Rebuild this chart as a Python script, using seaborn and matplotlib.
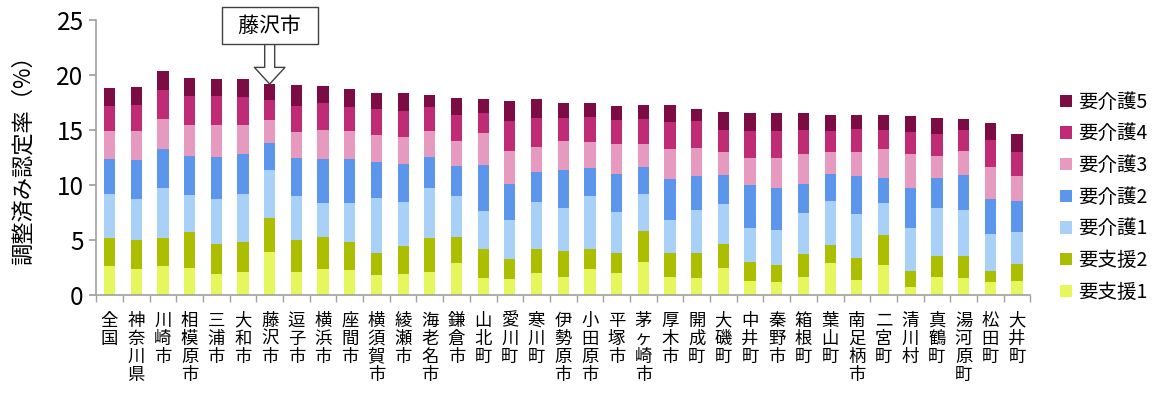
import numpy as np
import pandas as pd
import matplotlib
matplotlib.use('Agg')
import matplotlib.pyplot as plt
from matplotlib.patches import Patch
import seaborn as sns

# Municipalities (x axis)
areas = ['全国', '神奈川県', '川崎市', '相模原市', '三浦市', '大和市', '藤沢市', '逗子市',
         '横浜市', '座間市', '横須賀市', '綾瀬市', '海老名市', '鎌倉市', '山北町', '愛川町',
         '寒川町', '伊勢原市', '小田原市', '平塚市', '茅ヶ崎市', '厚木市', '開成町', '大磯町',
         '中井町', '秦野市', '箱根町', '葉山町', '南足柄市', '二宮町', '清川村', '真鶴町',
         '湯河原町', '松田町', '大井町']

# Adjusted certification rate by care level (%)
shien1 = [2.64, 2.36, 2.64, 2.45, 1.94, 2.12, 3.91, 2.12, 2.33, 2.24, 1.82, 1.94, 2.12, 2.94,
          1.55, 1.42, 2.03, 1.64, 2.33, 2.03, 3.03, 1.64, 1.55, 2.45, 1.24, 1.15, 1.64, 2.88,
          1.36, 2.76, 0.76, 1.64, 1.55, 1.15, 1.24]
shien2 = [2.57, 2.64, 2.57, 3.30, 2.73, 2.73, 3.12, 2.88, 2.97, 2.61, 2.03, 2.52, 3.09, 2.36,
          2.58, 1.88, 2.18, 2.39, 1.88, 1.82, 2.79, 2.21, 2.30, 2.21, 1.79, 1.58, 2.12, 1.64,
          2.03, 2.66, 1.45, 1.91, 2.00, 1.06, 1.61]
kaigo1 = [3.97, 3.70, 4.55, 3.30, 4.09, 4.33, 4.33, 3.97, 3.06, 3.52, 5.00, 4.00, 4.55, 3.70,
          3.52, 3.52, 4.24, 3.91, 4.76, 3.70, 3.36, 2.97, 3.91, 3.61, 3.03, 3.21, 3.69, 4.03,
          3.97, 2.94, 3.85, 4.33, 4.21, 3.37, 2.91]
kaigo2 = [3.18, 3.57, 3.48, 3.61, 3.82, 3.67, 2.48, 3.52, 4.00, 3.94, 3.27, 3.48, 2.79, 2.76,
          4.12, 3.30, 2.70, 3.42, 2.61, 3.48, 2.45, 3.73, 3.09, 2.67, 3.97, 3.82, 2.67, 2.48,
          3.49, 2.31, 3.70, 2.79, 3.18, 3.18, 2.79]
kaigo3 = [2.52, 2.61, 2.73, 2.82, 2.91, 2.64, 2.06, 2.30, 2.64, 2.58, 2.45, 2.42, 2.33, 2.24,
          2.91, 2.97, 2.30, 2.61, 2.30, 2.73, 2.12, 2.73, 2.52, 2.06, 2.45, 2.72, 2.73, 1.94,
          2.12, 2.60, 3.03, 1.97, 2.15, 2.91, 2.24]
kaigo4 = [2.30, 2.39, 2.64, 2.61, 2.61, 2.52, 1.82, 2.42, 2.42, 2.21, 2.33, 2.36, 2.21, 2.33,
          1.88, 2.73, 2.64, 2.12, 2.30, 2.12, 2.21, 2.42, 2.45, 2.00, 2.42, 2.43, 2.12, 1.94,
          2.09, 1.73, 2.03, 2.00, 1.91, 2.42, 2.18]
kaigo5 = [1.61, 1.61, 1.79, 1.61, 1.52, 1.61, 1.45, 1.88, 1.58, 1.61, 1.42, 1.67, 1.09, 1.55,
          1.24, 1.85, 1.70, 1.39, 1.30, 1.30, 1.30, 1.58, 1.06, 1.67, 1.67, 1.61, 1.55, 1.48,
          1.33, 1.39, 1.48, 1.45, 0.97, 1.52, 1.70]

levels = ['要支援1', '要支援2', '要介護1', '要介護2', '要介護3', '要介護4', '要介護5']
colors = ['#E5F75C', '#ABBE00', '#A9D0F7', '#5C95EC', '#E79AC0', '#BF2B74', '#7C0C44']

df = pd.DataFrame({'area': areas, '要支援1': shien1, '要支援2': shien2, '要介護1': kaigo1,
                   '要介護2': kaigo2, '要介護3': kaigo3, '要介護4': kaigo4, '要介護5': kaigo5})
cum = df[levels].cumsum(axis=1)
cum['area'] = df['area']

sns.set_theme(style='white')
plt.rcParams['font.family'] = ['Noto Sans CJK JP', 'DejaVu Sans']

fig = plt.figure(figsize=(11.59, 3.99), dpi=100)
ax = fig.add_axes([0.083, 0.261, 0.806, 0.689])

# stacked bars: draw cumulative totals from the top level down
for lvl, col in reversed(list(zip(levels, colors))):
    sns.barplot(data=cum, x='area', y=lvl, order=areas, color=col, saturation=1,
                width=0.42, linewidth=0, ax=ax)

ax.set_ylim(0, 25)
ax.set_xlim(-0.5, len(areas) - 0.5)
ax.set_yticks([0, 5, 10, 15, 20, 25])
ax.tick_params(axis='y', labelsize=17.5, length=5, color='#a0a0a0', direction='out',
               left=True, pad=4, labelcolor='black')
ax.set_xticks(range(len(areas)))
ax.set_xticklabels(['\n'.join(a) for a in areas], fontsize=12.5, linespacing=1.0,
                   va='top', color='black')
ax.tick_params(axis='x', which='major', length=0, pad=12)
ax.set_xticks(np.arange(-0.5, len(areas)), minor=True)
ax.tick_params(axis='x', which='minor', length=5, color='#a0a0a0', bottom=True)
ax.set_xlabel('')
ax.set_ylabel('調整済み認定率（%）', fontsize=16, color='black')
ax.yaxis.set_label_coords(-0.066, 0.51)
for side in ['top', 'right']:
    ax.spines[side].set_visible(False)
for side in ['left', 'bottom']:
    ax.spines[side].set_color('#a0a0a0')
    ax.spines[side].set_linewidth(1.2)

# callout for Fujisawa
i = areas.index('藤沢市')
ax.annotate('  藤沢市  ', xy=(i, cum.loc[i, '要介護5']), xytext=(i, 24.5),
            ha='center', va='center', fontsize=15, annotation_clip=False, color='black',
            bbox=dict(boxstyle='square,pad=0.35', fc='white', ec='#404040', lw=1),
            arrowprops=dict(arrowstyle='simple,head_length=0.6,head_width=1.1,tail_width=0.36',
                            fc='white', ec='#404040', lw=1, shrinkA=0, shrinkB=0,
                            mutation_scale=20))

handles = [Patch(facecolor=c, edgecolor='none', label=l) for l, c in zip(levels, colors)]
fig.legend(handles=handles[::-1], loc='upper left', bbox_to_anchor=(0.908, 0.79),
           frameon=False, fontsize=14, handlelength=0.6, handleheight=0.6,
           handletextpad=0.35, labelspacing=0.55, borderaxespad=0, labelcolor='black')

fig.savefig('out.png', dpi=100)
